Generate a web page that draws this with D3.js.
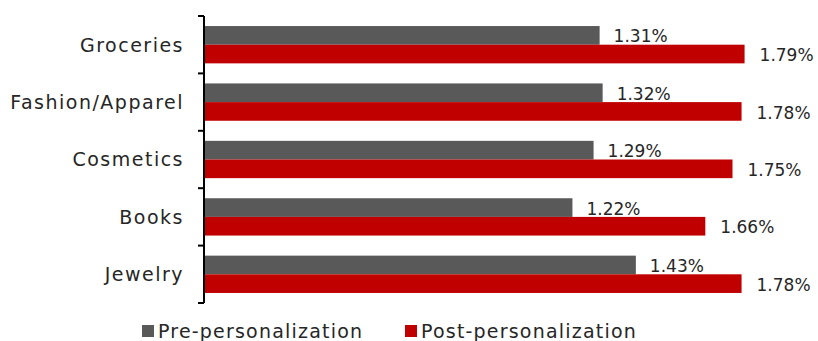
<!DOCTYPE html>
<html>
<head>
<meta charset="utf-8">
<script src="https://cdn.jsdelivr.net/npm/d3@7"></script>
<style>
  body { margin: 0; background: #fff; }
  svg { display: block; font-family: "DejaVu Sans", sans-serif; }
  svg text { letter-spacing: 1.2px; }
  svg text.cat { letter-spacing: 1.5px; }
  svg text.val { letter-spacing: 0; }
</style>
</head>
<body>
<div id="chart"></div>
<script>
// data
var categories = ['Groceries', 'Fashion/Apparel', 'Cosmetics', 'Books', 'Jewelry'];
var seriesNames = ['Pre-personalization', 'Post-personalization'];
var preValues = [1.31, 1.32, 1.29, 1.22, 1.43];
var postValues = [1.79, 1.78, 1.75, 1.66, 1.78];
var colors = ['#595959', '#C00000'];

var W = 818, H = 341;
var plotLeft = 204, plotTop = 16, plotBottom = 303;

var svg = d3.select('#chart').append('svg').attr('width', W).attr('height', H);

var x = d3.scaleLinear().domain([0, 2]).range([plotLeft, plotLeft + 604]);
var y = d3.scaleBand().domain(categories).range([plotTop, plotBottom]).paddingInner(0.35).paddingOuter(0.175);
var y1 = d3.scaleBand().domain(seriesNames).range([0, y.bandwidth()]);

var rows = categories.map(function (c, i) {
	return { cat: c, vals: [preValues[i], postValues[i]] };
});

var g = svg.selectAll('g.row').data(rows).enter().append('g')
	.attr('class', 'row')
	.attr('transform', function (d) { return 'translate(0,' + y(d.cat) + ')'; });

g.selectAll('rect').data(function (d) { return d.vals; }).enter().append('rect')
	.attr('x', x(0))
	.attr('y', function (d, i) { return y1(seriesNames[i]); })
	.attr('width', function (d) { return x(d) - x(0); })
	.attr('height', y1.bandwidth())
	.attr('fill', function (d, i) { return colors[i]; });

g.selectAll('text').data(function (d) { return d.vals; }).enter().append('text')
	.attr('class', 'val')
	.attr('x', function (d, i) { return x(d) + (i ? 15 : 14); })
	.attr('y', function (d, i) { return y1(seriesNames[i]) + y1.bandwidth() / 2 + 1; })
	.attr('dy', '0.36em')
	.attr('font-size', 17)
	.attr('fill', '#262626')
	.text(function (d) { return d.toFixed(2) + '%'; });

// y axis with ticks between the categories
var edges = d3.range(categories.length + 1).map(function (i) { return plotTop + i * y.step(); });
svg.append('line').attr('x1', plotLeft).attr('x2', plotLeft).attr('y1', plotTop).attr('y2', plotBottom)
	.attr('stroke', '#000').attr('stroke-width', 2);
svg.selectAll('line.tick').data(edges).enter().append('line')
	.attr('class', 'tick')
	.attr('x1', plotLeft - 6).attr('x2', plotLeft).attr('y1', function (d) { return d; }).attr('y2', function (d) { return d; })
	.attr('stroke', '#000').attr('stroke-width', 2);

svg.selectAll('text.cat').data(categories).enter().append('text')
	.attr('class', 'cat')
	.attr('x', 184)
	.attr('y', function (d) { return y(d) + y.bandwidth() / 2; })
	.attr('dy', '0.36em')
	.attr('text-anchor', 'end')
	.attr('font-size', 19)
	.attr('fill', '#262626')
	.text(function (d) { return d; });

// legend
var legendX = [142, 405];
var lg = svg.selectAll('g.legend').data(seriesNames).enter().append('g')
	.attr('class', 'legend')
	.attr('transform', function (d, i) { return 'translate(' + legendX[i] + ',325)'; });
lg.append('rect').attr('width', 12).attr('height', 12).attr('fill', function (d, i) { return colors[i]; });
lg.append('text').attr('x', 16).attr('y', 6).attr('dy', '0.36em')
	.attr('font-size', 19).attr('fill', '#262626')
	.text(function (d) { return d; });
</script>
</body>
</html>
